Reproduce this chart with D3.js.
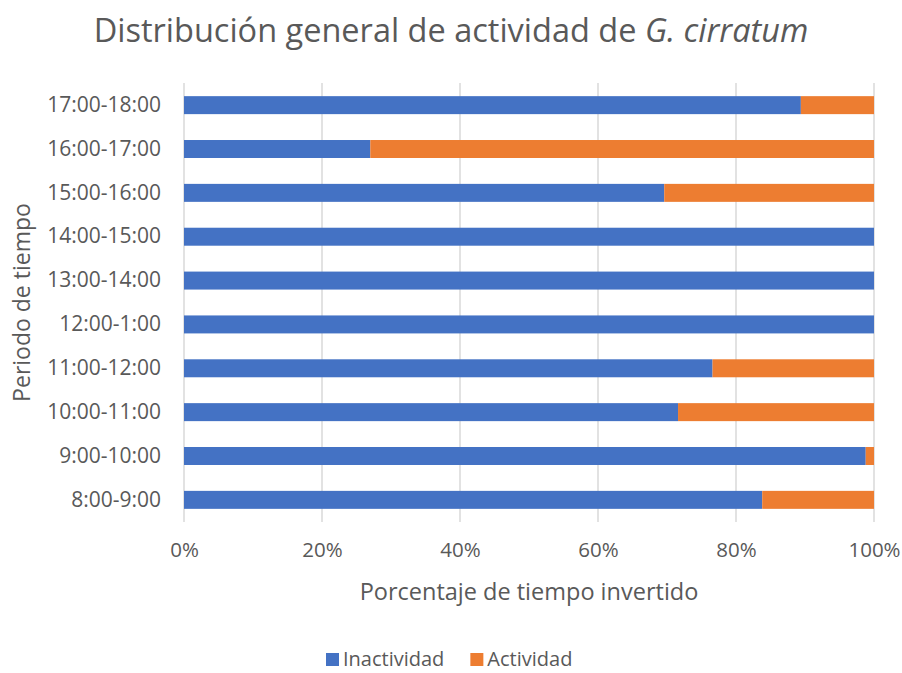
<!DOCTYPE html>
<html>
<head>
<meta charset="utf-8">
<script src="https://cdnjs.cloudflare.com/ajax/libs/d3/7.8.5/d3.min.js"></script>
<style>
  body { margin: 0; background: #fff; }
  text { font-family: "Open Sans", "Noto Sans", sans-serif; fill: #595959; }
</style>
</head>
<body>
<div id="chart"></div>
<script>
// periods, bottom to top as in the source sheet
var periods = ["8:00-9:00", "9:00-10:00", "10:00-11:00", "11:00-12:00", "12:00-1:00",
               "13:00-14:00", "14:00-15:00", "15:00-16:00", "16:00-17:00", "17:00-18:00"]
var inactividad = [83.8, 98.8, 71.6, 76.6, 100, 100, 100, 69.6, 27.0, 89.4]
var actividad   = [16.2, 1.2, 28.4, 23.4, 0, 0, 0, 30.4, 73.0, 10.6]
var seriesNames = ["Inactividad", "Actividad"]
var xTicks = [0, 20, 40, 60, 80, 100]

var W = 902, H = 673
var margin = {top: 83, right: 28, bottom: 151, left: 184}
var innerW = W - margin.left - margin.right
var innerH = H - margin.top - margin.bottom
var colors = {Inactividad: "#4472C4", Actividad: "#ED7D31"}

var rows = periods.map((p, i) => ({period: p, Inactividad: inactividad[i], Actividad: actividad[i]}))
var stacked = d3.stack().keys(seriesNames)(rows)

var svg = d3.select("#chart").append("svg")
  .attr("width", W).attr("height", H)

var g = svg.append("g")
  .attr("transform", `translate(${margin.left},${margin.top})`)

var x = d3.scaleLinear().domain([0, 100]).range([0, innerW])
// top of the chart is the last period
var y = d3.scaleBand().domain(periods.slice().reverse()).range([0, innerH]).paddingInner(0.59).paddingOuter(0.3)

// gridlines
g.selectAll("line.grid").data(xTicks).enter().append("line")
  .attr("class", "grid")
  .attr("x1", d => x(d)).attr("x2", d => x(d))
  .attr("y1", 0).attr("y2", innerH)
  .attr("stroke", "#d9d9d9").attr("stroke-width", 1.5)

// bars
g.selectAll("g.layer").data(stacked).enter().append("g")
  .attr("class", "layer")
  .attr("fill", d => colors[d.key])
  .selectAll("rect").data(d => d).enter().append("rect")
  .attr("x", d => x(d[0]))
  .attr("width", d => x(d[1]) - x(d[0]))
  .attr("y", d => y(d.data.period))
  .attr("height", y.bandwidth())

// y labels
var yAxis = g.append("g").call(d3.axisLeft(y).tickSize(0).tickPadding(23))
yAxis.select(".domain").remove()
yAxis.selectAll("text").style("font-size", "21px").attr("fill", "#595959")

// x labels
var xAxis = g.append("g").attr("transform", `translate(0,${innerH})`)
  .call(d3.axisBottom(x).tickValues(xTicks).tickSize(0).tickPadding(20).tickFormat(d => d + "%"))
xAxis.select(".domain").remove()
xAxis.selectAll("text").style("font-size", "20.5px").attr("fill", "#595959")

// title
var title = svg.append("text")
  .attr("x", 451).attr("y", 42)
  .attr("text-anchor", "middle")
  .style("font-size", "32.5px")
title.append("tspan").text("Distribución general de actividad de ")
title.append("tspan").style("font-style", "italic").text("G. cirratum")

// axis titles
svg.append("text")
  .attr("x", margin.left + innerW / 2).attr("y", 600)
  .attr("text-anchor", "middle")
  .style("font-size", "23.5px")
  .text("Porcentaje de tiempo invertido")

svg.append("text")
  .attr("transform", `translate(30,${margin.top + innerH / 2}) rotate(-90)`)
  .attr("text-anchor", "middle")
  .style("font-size", "23px")
  .text("Periodo de tiempo")

// legend
var legend = svg.append("g").attr("transform", "translate(326,666)")
var lx = 0
seriesNames.forEach(function(name) {
  legend.append("rect").attr("x", lx).attr("y", -13).attr("width", 13).attr("height", 13)
    .attr("fill", colors[name])
  var t = legend.append("text").attr("x", lx + 17).attr("y", 0)
    .style("font-size", "20px").text(name)
  lx += t.node().getComputedTextLength() + 17 + 26
})
</script>
</body>
</html>
